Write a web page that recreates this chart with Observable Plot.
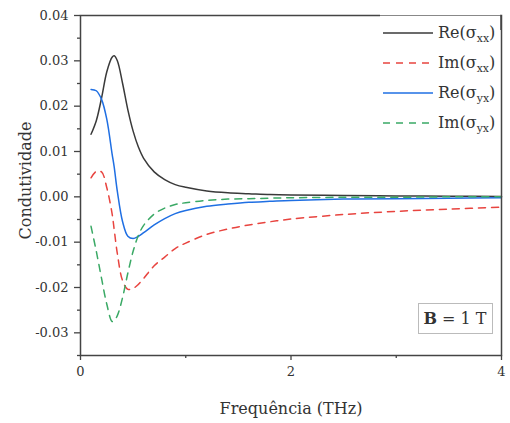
<!DOCTYPE html>
<html>
<head>
<meta charset="utf-8">
<script src="https://cdn.jsdelivr.net/npm/d3@7"></script>
<script src="https://cdn.jsdelivr.net/npm/@observablehq/plot@0.6"></script>
<style>
  html, body { margin: 0; padding: 0; background: #fff; }
  #chart svg { display: block; }
</style>
</head>
<body>
<div id="chart"></div>
<script>
// Frequency grid (THz)
const freq = [0.10,0.15,0.20,0.25,0.30,0.32,0.35,0.40,0.45,0.50,0.55,0.60,0.70,0.80,0.90,1.0,1.2,1.4,1.6,1.8,2.0,2.5,3.0,3.5,4.0];
// Re(sigma_xx)
const reXX = [0.0138,0.0168,0.0218,0.0276,0.0308,0.0311,0.0300,0.0250,0.0192,0.0145,0.0110,0.0085,0.0055,0.0038,0.0027,0.0021,0.0013,0.0009,0.0007,0.0005,0.0004,0.0003,0.0002,0.00015,0.0001];
// Im(sigma_xx)
const imXX = [0.0042,0.0056,0.0055,0.0020,-0.0037,-0.0072,-0.0125,-0.0185,-0.0204,-0.0202,-0.0193,-0.0180,-0.0152,-0.0133,-0.0114,-0.0102,-0.0083,-0.0071,-0.0062,-0.0055,-0.0049,-0.0039,-0.0032,-0.0027,-0.0023];
// Re(sigma_yx)
const reYX = [0.0237,0.0234,0.0215,0.0171,0.0095,0.0066,0.0012,-0.0055,-0.0087,-0.0092,-0.0087,-0.0079,-0.0062,-0.0048,-0.0037,-0.0030,-0.0021,-0.0016,-0.0012,-0.0010,-0.0008,-0.0005,-0.0004,-0.0003,-0.0002];
// Im(sigma_yx)
const imYX = [-0.0065,-0.0120,-0.0180,-0.0237,-0.0275,-0.0273,-0.0262,-0.0222,-0.0168,-0.0120,-0.0085,-0.0063,-0.0038,-0.0025,-0.0017,-0.0013,-0.0008,-0.0005,-0.0004,-0.0003,-0.0002,-0.0001,-0.0001,0.0000,0.0000];

const seriesNames = ["Re(σxx)", "Im(σxx)", "Re(σyx)", "Im(σyx)"];
const seriesValues = [reXX, imXX, reYX, imYX];
const seriesColors = ["#3a3a3a", "#e8443f", "#1f6fe3", "#3aa965"];
const seriesDash = [null, "7,6", null, "7,6"];

const yTicks = [-0.03,-0.02,-0.01,0.00,0.01,0.02,0.03,0.04];
const yMinor = [-0.035,-0.025,-0.015,-0.005,0.005,0.015,0.025,0.035];
const xTicks = [0, 2, 4];
const xMinor = [1, 3];

const rows = [];
seriesValues.forEach((vals, i) => vals.forEach((v, j) => rows.push({f: freq[j], v, s: i})));

const fmtY = d => { const s = d3.format(".2f")(Math.abs(d)); return (d < -1e-9 ? "-" : "") + s; };

const font = "DejaVu Serif, Liberation Serif, serif";
const ink = "#333";

const plot = Plot.plot({
  width: 510,
  height: 423,
  marginLeft: 80,
  marginRight: 9,
  marginTop: 15,
  marginBottom: 68,
  style: {fontFamily: font, fontSize: "13px", color: ink, background: "#fff"},
  x: {domain: [0, 4]},
  y: {domain: [-0.035, 0.04]},
  marks: [
    ...seriesValues.map((vals, i) => Plot.line(rows.filter(r => r.s === i), {
      x: "f", y: "v", stroke: seriesColors[i], strokeWidth: 1.5,
      strokeDasharray: seriesDash[i] || undefined, curve: "catmull-rom"
    })),
    Plot.frame({stroke: "#444", strokeWidth: 1.5}),
    Plot.axisY({ticks: yTicks, tickSize: 6, tickPadding: 6, tickFormat: fmtY, label: null, stroke: "#444", strokeWidth: 1.3}),
    Plot.axisY({ticks: yMinor, tickSize: 3, tickFormat: () => "", label: null, stroke: "#444", strokeWidth: 1.3}),
    Plot.axisX({ticks: xTicks, tickSize: 5, tickPadding: 6, tickFormat: d => String(d), label: null, stroke: "#444", strokeWidth: 1.3}),
    Plot.axisX({ticks: xMinor, tickSize: 3, tickFormat: () => "", label: null, stroke: "#444", strokeWidth: 1.3}),
    Plot.text(["Frequência (THz)"], {frameAnchor: "bottom", dy: 53, lineAnchor: "middle", textAnchor: "middle", fontSize: 16, fill: ink}),
    Plot.text(["Condutividade"], {frameAnchor: "left", dx: -55, dy: -5, rotate: -90, lineAnchor: "middle", textAnchor: "middle", fontSize: 16, fill: ink})
  ]
});

document.getElementById("chart").appendChild(plot);

// Legend and annotation
const svg = d3.select(plot);
const g = svg.append("g").attr("font-family", font).attr("fill", ink).attr("text-anchor", "start");
// lighter top border over legend area
g.append("rect").attr("x", 380).attr("y", 14).attr("width", 120).attr("height", 3).attr("fill", "#fff");
g.append("line").attr("x1", 380).attr("x2", 501).attr("y1", 15.5).attr("y2", 15.5).attr("stroke", "#888").attr("stroke-width", 1);
g.append("line").attr("x1", 501).attr("x2", 501).attr("y1", 15).attr("y2", 30).attr("stroke", "#444").attr("stroke-width", 1.5);

const legY = [33, 63, 93, 123];
const legParts = [["Re(σ", "xx", ")"], ["Im(σ", "xx", ")"], ["Re(σ", "yx", ")"], ["Im(σ", "yx", ")"]];
legParts.forEach((p, i) => {
  const line = g.append("line").attr("x1", 383).attr("x2", 433).attr("y1", legY[i]).attr("y2", legY[i])
    .attr("stroke", seriesColors[i]).attr("stroke-width", 1.5);
  if (seriesDash[i]) line.attr("stroke-dasharray", seriesDash[i]);
  const t = g.append("text").attr("x", 438).attr("y", legY[i] + 5).attr("font-size", 16).attr("text-anchor", "start");
  t.append("tspan").text(p[0]);
  t.append("tspan").attr("dy", 4).attr("font-size", 11).text(p[1]);
  t.append("tspan").attr("dy", -4).text(p[2]);
});

// B = 1 T box
g.append("rect").attr("x", 418.5).attr("y", 303.5).attr("width", 74).attr("height", 30)
  .attr("fill", "#fff").attr("stroke", "#bbb").attr("stroke-width", 1);
const bt = g.append("text").attr("x", 455).attr("y", 324).attr("text-anchor", "middle").attr("font-size", 16);
bt.append("tspan").attr("font-weight", "bold").text("B");
bt.append("tspan").text(" = 1 T");
</script>
</body>
</html>
